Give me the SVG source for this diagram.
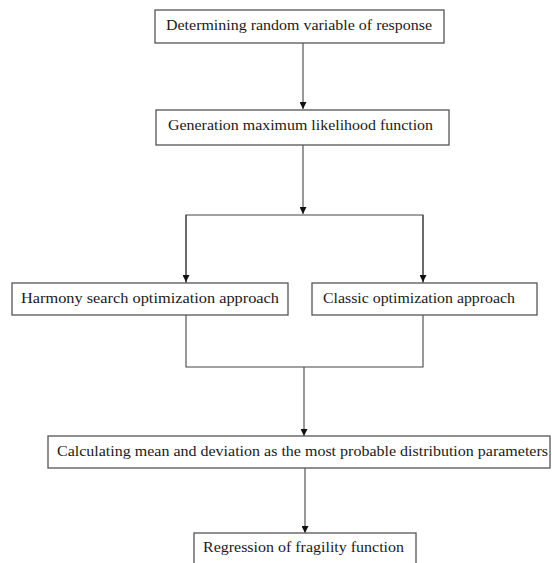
<svg xmlns="http://www.w3.org/2000/svg" width="552" height="563" viewBox="0 0 552 563">
<style>
.box{fill:#fff;stroke:#555;stroke-width:1.3}
.t{font-family:'Liberation Serif','Times New Roman',serif;font-size:14.5px;fill:#1a1a1a}
.c{fill:none;stroke:#444;stroke-width:1.1}
</style>
<defs>
<marker id="ah" viewBox="0 0 10 10" refX="10" refY="5" markerWidth="7" markerHeight="7" markerUnits="userSpaceOnUse" orient="auto">
<path d="M0,0 L10,5 L0,10 Z" fill="#111"/>
</marker>
</defs>
<rect width="552" height="563" fill="#fff"/>
<g id="connectors">
<line class="c" x1="303" y1="43" x2="303" y2="109" marker-end="url(#ah)"/>
<line class="c" x1="303" y1="145" x2="303" y2="214" marker-end="url(#ah)"/>
<polyline class="c" points="186,283 186,215 423,215 423,283"/>
<line class="c" x1="186" y1="215" x2="186" y2="282" marker-end="url(#ah)"/>
<line class="c" x1="423" y1="215" x2="423" y2="282" marker-end="url(#ah)"/>
<polyline class="c" points="186,315 186,367 423,367 423,315"/>
<line class="c" x1="304" y1="367" x2="304" y2="436" marker-end="url(#ah)"/>
<line class="c" x1="305" y1="468" x2="305" y2="533" marker-end="url(#ah)"/>
</g>
<g id="n1">
<rect class="box" x="155" y="10" width="289" height="33"/>
<text class="t" x="166" y="30" textLength="266" lengthAdjust="spacingAndGlyphs">Determining random variable of response</text>
</g>
<g id="n2">
<rect class="box" x="156" y="110" width="293" height="35"/>
<text class="t" x="168" y="130" textLength="265" lengthAdjust="spacingAndGlyphs">Generation maximum likelihood function</text>
</g>
<g id="n3">
<rect class="box" x="12" y="283" width="276" height="32"/>
<text class="t" x="21" y="303" textLength="258" lengthAdjust="spacingAndGlyphs">Harmony search optimization approach</text>
</g>
<g id="n4">
<rect class="box" x="312" y="283" width="225" height="32"/>
<text class="t" x="323" y="303" textLength="192" lengthAdjust="spacingAndGlyphs">Classic optimization approach</text>
</g>
<g id="n5">
<rect class="box" x="48" y="436" width="502" height="32"/>
<text class="t" x="57" y="456" textLength="491" lengthAdjust="spacingAndGlyphs">Calculating mean and deviation as the most probable distribution parameters</text>
</g>
<g id="n6">
<rect class="box" x="194" y="533" width="222" height="40"/>
<text class="t" x="203" y="552" textLength="201" lengthAdjust="spacingAndGlyphs">Regression of fragility function</text>
</g>
</svg>
